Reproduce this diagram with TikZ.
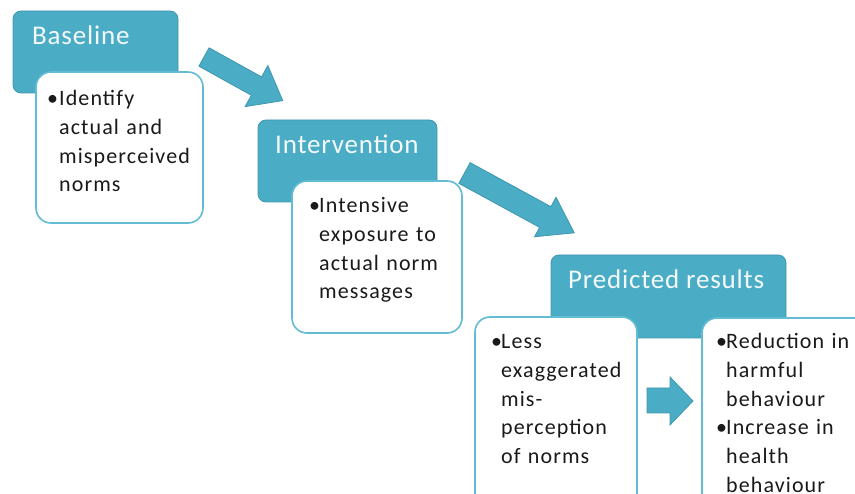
\documentclass[tikz,border=0pt]{standalone}
\usepackage{fontspec}
\newfontfamily\titlefont[LetterSpace=3]{Carlito}
\newfontfamily\bodyfont[LetterSpace=5]{Carlito}
\definecolor{tealfill}{HTML}{4BACC6}
\definecolor{tealedge}{HTML}{3E97AE}
\definecolor{cardedge}{HTML}{62BCD3}
\definecolor{titletext}{HTML}{F4FAFC}
\definecolor{bodytext}{HTML}{1A1A1A}
\tikzset{
  stage/.style={fill=tealfill, draw=tealedge, line width=0.8pt, rounded corners=8pt},
  card/.style={fill=white, draw=cardedge, line width=1.6pt, rounded corners=15pt},
  flow/.style={fill=tealfill, draw=tealedge, line width=0.8pt},
  title/.style={anchor=base west, inner sep=0pt, text=titletext, font=\titlefont\fontsize{27}{32}\selectfont},
  item/.style={anchor=base west, inner sep=0pt, text=bodytext, text width=#1, align=left,
    font=\bodyfont\fontsize{22}{28.6}\selectfont},
  item/.default=150pt,
  dot/.style={anchor=base west, inner sep=0pt, text=bodytext, font=\bodyfont\fontsize{22}{28.6}\selectfont}
}
\begin{document}
\begin{tikzpicture}[x=1pt,y=-1pt]
\useasboundingbox (0,0) rectangle (855,494);
\clip (0,0) rectangle (855,494);

% stage headers
\path[stage] (13,11) rectangle (178,93);
\path[stage] (258,120) rectangle (437,202);
\path[stage] (551,255) rectangle (786,338);

% slanted block arrows between stages
\begin{scope}[shift={(204,57)}, rotate=-29]
  \path[flow] (0,-10.5) -- (60,-10.5) -- (60,-23.5) -- (90,0) -- (60,23.5) -- (60,10.5) -- (0,10.5) -- cycle;
\end{scope}
\begin{scope}[shift={(464.5,173)}, rotate=-28.6]
  \path[flow] (0,-11.8) -- (92,-11.8) -- (92,-22.5) -- (125,0) -- (92,22.5) -- (92,11.8) -- (0,11.8) -- cycle;
\end{scope}

% content cards
\path[card] (36,72) rectangle (203,223);
\path[card] (292,181) rectangle (462,333);
\path[card] (475,317) rectangle (637,520);
\path[card] (702,318) rectangle (900,520);

% small arrow between the two result cards
\path[flow] (647,388) -- (670,388) -- (670,377) -- (693,401) -- (670,425) -- (670,413) -- (647,413) -- cycle;

% titles
\node[title] (tbase) at (32,45) {Baseline};
\node[title] (tint) at (275,154) {Intervention};
\node[title] (tres) at (568,289) {Predicted results};

% card texts
\node[dot] (b1) at (47,106) {\textbullet};
\node[item] (x1) at (59,106) {Identify\\actual and\\misperceived\\norms};

\node[dot] (b2) at (309,213) {\textbullet};
\node[item] (x2) at (319,213) {Intensive\\exposure to\\actual norm\\messages};

\node[dot] (b3) at (491,349) {\textbullet};
\node[item] (x3) at (501,349) {Less\\exaggerated\\mis-\\perception\\of norms};

\node[dot] (b4) at (716,349) {\textbullet};
\node[item] (x4) at (726,349) {Reduction in\\harmful\\behaviour};
\node[dot] (b5) at (716,435) {\textbullet};
\node[item] (x5) at (726,435) {Increase in\\health\\behaviour};
\end{tikzpicture}
\end{document}
